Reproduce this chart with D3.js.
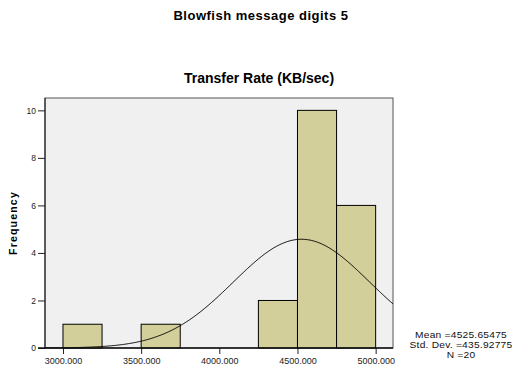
<!DOCTYPE html>
<html>
<head>
<meta charset="utf-8">
<script src="https://cdn.jsdelivr.net/npm/d3@7"></script>
<style>
  html, body { margin: 0; padding: 0; background: #fff; }
  svg { display: block; font-family: "Liberation Sans", Arial, sans-serif; }
</style>
</head>
<body>
<svg id="chart" width="513" height="369"></svg>
<script>
// Histogram bins (lower edge, upper edge) and counts
const binStarts = [3000, 3500, 4250, 4500, 4750];
const binEnds   = [3250, 3750, 4500, 4750, 5000];
const counts    = [1, 1, 2, 10, 6];
const xTicks = [3000, 3500, 4000, 4500, 5000];
const yTicks = [0, 2, 4, 6, 8, 10];
const mean = 4525.65475, sd = 435.92775, n = 20, binWidth = 250;
const stats = ["Mean =4525.65475", "Std. Dev. =435.92775", "N =20"];

const svg = d3.select("#chart");
const plotL = 45, plotR = 393, plotT = 98, plotB = 348;

const x = d3.scaleLinear().domain([2885, 5111]).range([plotL, plotR]);
const y = d3.scaleLinear().domain([0, 10.52]).range([plotB, plotT]);

// titles
svg.append("text").attr("x", 261).attr("y", 20).attr("text-anchor", "middle")
  .attr("font-size", 13).attr("letter-spacing", 0.5).attr("font-weight", "bold")
  .text("Blowfish message digits 5");
svg.append("text").attr("x", 259).attr("y", 83).attr("text-anchor", "middle")
  .attr("font-size", 14).attr("font-weight", "bold").text("Transfer Rate (KB/sec)");

// plot background
svg.append("rect").attr("x", plotL).attr("y", plotT).attr("width", plotR - plotL).attr("height", plotB - plotT)
  .attr("fill", "#f0f0f0").attr("stroke", "#555").attr("stroke-width", 1);
svg.append("line").attr("x1", plotL).attr("x2", plotL).attr("y1", plotT).attr("y2", plotB)
  .attr("stroke", "#111").attr("stroke-width", 1);

// bars
svg.append("g").selectAll("rect").data(counts).join("rect")
  .attr("x", (d, i) => x(binStarts[i]))
  .attr("width", (d, i) => x(binEnds[i]) - x(binStarts[i]))
  .attr("y", d => y(d))
  .attr("height", d => y(0) - y(d))
  .attr("fill", "#d3cf9b").attr("stroke", "#000").attr("stroke-width", 1);

// normal curve scaled to counts
const curve = d3.range(2885, 5111.1, 5).map(v => [v, n * binWidth * Math.exp(-0.5 * ((v - mean) / sd) ** 2) / (sd * Math.sqrt(2 * Math.PI))]);
svg.append("path").datum(curve)
  .attr("d", d3.line().x(d => x(d[0])).y(d => y(d[1])))
  .attr("fill", "none").attr("stroke", "#000").attr("stroke-width", 1);

// axes
const yAxis = svg.append("g").attr("transform", `translate(${plotL},0)`)
  .call(d3.axisLeft(y).tickValues(yTicks).tickSize(7).tickPadding(2));
yAxis.select(".domain").remove();
yAxis.selectAll(".tick text").attr("font-size", 8.5);
const xAxis = svg.append("g").attr("transform", `translate(0,${plotB})`)
  .call(d3.axisBottom(x).tickValues(xTicks).tickSize(6).tickPadding(4).tickFormat(d3.format(".3f")));
xAxis.select(".domain").remove();
xAxis.selectAll(".tick text").attr("font-size", 9);
svg.selectAll(".tick text").attr("fill", "#222").attr("font-family", "Liberation Sans, Arial, sans-serif");
svg.selectAll(".tick line").attr("stroke", "#222");

// baseline
svg.append("line").attr("x1", plotL - 7).attr("x2", plotR).attr("y1", plotB).attr("y2", plotB)
  .attr("stroke", "#111").attr("stroke-width", 1.5);

// y label
svg.append("text").attr("transform", "translate(16.5,223) rotate(-90)").attr("text-anchor", "middle")
  .attr("font-size", 10.5).attr("letter-spacing", 1.2).attr("font-weight", "bold").text("Frequency");

// summary statistics, slightly widened glyphs
svg.append("g").attr("transform", "translate(461,0) scale(1.2,1)")
  .selectAll("text").data(stats).join("text")
  .attr("x", 0).attr("y", (d, i) => 338.5 + i * 9.7).attr("text-anchor", "middle")
  .attr("font-size", 8.5).attr("letter-spacing", 0.2).attr("fill", "#111").text(d => d);
</script>
</body>
</html>
